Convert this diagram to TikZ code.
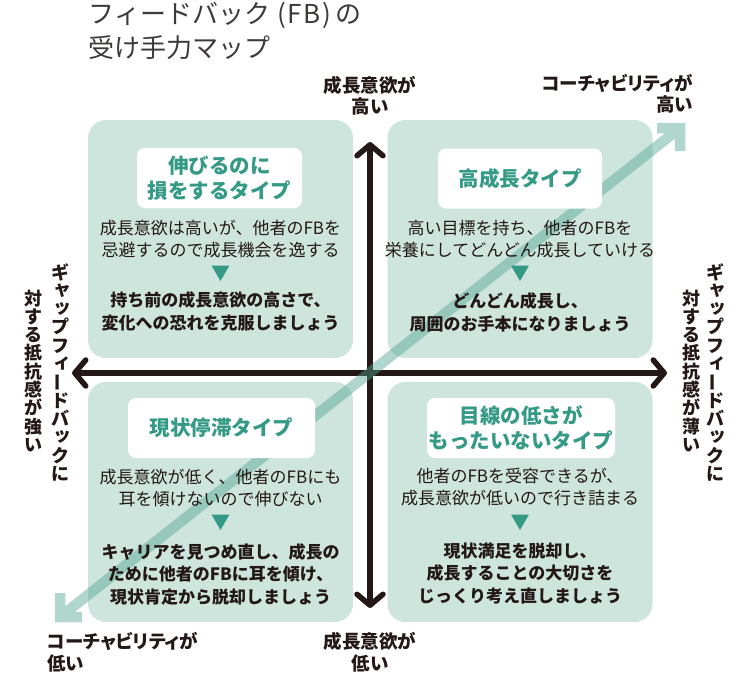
\documentclass[tikz,border=0pt]{standalone}
\usepackage{fontspec}
\newfontfamily\jp{Noto Sans CJK JP}
\newfontfamily\jpp{Noto Sans CJK JP}[RawFeature=+palt]
\usetikzlibrary{arrows.meta}
\definecolor{fbbox}{RGB}{206,229,222}
\definecolor{fbteal}{RGB}{52,154,133}
\definecolor{fbstripe}{RGB}{80,165,145}
\definecolor{fbdark}{RGB}{35,24,21}
\definecolor{fbgray}{RGB}{62,58,57}
\newcommand\emc[1]{\makebox[1em][c]{#1}}
\begin{document}
\begin{tikzpicture}[x=1pt,y=-1pt,
  qbox/.style={fill=fbbox, rounded corners=18pt, inner sep=0pt, minimum width=265pt, minimum height=238pt},
  tbox/.style={fill=white, rounded corners=8pt, inner sep=0pt, minimum height=60pt, align=center,
    text=fbteal, font=\jp\bfseries\fontsize{20.5}{25}\selectfont},
  bodytext/.style={inner sep=0pt, align=center, text=fbdark, font=\jp\fontsize{17}{22}\selectfont},
  advtext/.style={inner sep=0pt, align=center, text=fbdark, font=\jp\bfseries\fontsize{17}{22.5}\selectfont},
  axlab/.style={inner sep=0pt, text=fbdark, font=\jpp\bfseries\fontsize{18.5}{21.5}\selectfont},
  titletext/.style={inner sep=0pt, anchor=base west, text=fbgray, font=\jp\fontsize{26}{34}\selectfont},
  vch/.style={inner sep=0pt, text=fbdark, font=\jp\bfseries\fontsize{18}{18}\selectfont},
  axis/.style={line width=5.5pt, draw=fbdark,
    {Straight Barb[length=11pt,width=26pt,round]}-{Straight Barb[length=11pt,width=26pt,round]}},
  stripe/.style={line width=10.5pt, draw=fbstripe, draw opacity=0.45, line join=miter, line cap=butt},
  tri/.pic={\fill[fbteal] (-9,-7.5) -- (9,-7.5) -- (0,8) -- cycle;}
]
\useasboundingbox (0,0) rectangle (750,673);

% title
\node[titletext] (title1) at (88,23.5) {\emc{フ}\emc{ィ}\emc{ー}\emc{ド}\emc{バ}\emc{ッ}\emc{ク}\hspace{7pt}(\hspace{2pt}F\hspace{1pt}B\hspace{2pt})\hspace{4pt}\emc{の}};
\node[titletext] (title2) at (88,57.5) {\emc{受}\emc{け}\emc{手}\emc{力}\emc{マ}\emc{ッ}\emc{プ}};

% quadrant boxes
\node[qbox] (qtl) at (220.5,239) {};
\node[qbox] (qtr) at (520,239) {};
\node[qbox, minimum height=240pt] (qbl) at (220.5,502) {};
\node[qbox, minimum height=240pt] (qbr) at (520,502) {};

% axes
\coordinate (axL) at (72,373);
\coordinate (axR) at (667,373);
\coordinate (axT) at (370,142);
\coordinate (axB) at (370,608);
\draw[axis] (axL) -- (axR);
\draw[axis] (axB) -- (axT);

% diagonal coachability stripe
\coordinate (sBL) at (60,617);
\coordinate (sTR) at (680,128);
\coordinate (sBLa) at (82,617);
\coordinate (sBLb) at (60,593);
\coordinate (sTRa) at (657,128);
\coordinate (sTRb) at (680,151);
\draw[stripe] (sBLa) -- (sBL) -- (sBLb) (sBL) -- (sTR) (sTRa) -- (sTR) -- (sTRb);

% type boxes
\node[tbox, minimum width=165pt] (ttl) at (219.5,178) {伸びるのに\\損をするタイプ};
\node[tbox, minimum width=164pt] (ttr) at (520,178.5) {高成長タイプ};
\node[tbox, minimum width=187pt] (tbl) at (221.5,428) {現状停滞タイプ};
\node[tbox, minimum width=188pt] (tbr) at (521,428) {目線の低さが\\もったいないタイプ};

% descriptions
\node[bodytext] (btl) at (220.5,239) {成長意欲は高いが、他者のFBを\\忌避するので成長機会を逸する};
\node[bodytext] (btr) at (520,239) {高い目標を持ち、他者のFBを\\栄養にしてどんどん成長していける};
\node[bodytext] (bbl) at (220.5,488) {成長意欲が低く、他者のFBにも\\耳を傾けないので伸びない};
\node[bodytext] (bbr) at (520,487.5) {他者のFBを受容できるが、\\成長意欲が低いので行き詰まる};

% triangles
\pic at (220.5,273) {tri};
\pic at (520,273) {tri};
\pic at (220.5,522) {tri};
\pic at (520,522) {tri};

% advice
\node[advtext] (atl) at (220.5,311.5) {持ち前の成長意欲の高さで、\\変化への恐れを克服しましょう};
\node[advtext] (atr) at (520,312.5) {どんどん成長し、\\周囲のお手本になりましょう};
\node[advtext] (abl) at (220.5,574) {キャリアを見つめ直し、成長の\\ために他者のFBに耳を傾け、\\現状肯定から脱却しましょう};
\node[advtext] (abr) at (520,573.5) {現状満足を脱却し、\\成長することの大切さを\\じっくり考え直しましょう};

% axis labels
\node[axlab, align=center] (lt) at (370,96) {成長意欲が\\高い};
\node[axlab, align=right, anchor=east] (ltr) at (693,94) {コーチャビリティが\\高い};
\node[axlab, align=left, anchor=west] (lbl) at (47,652) {コーチャビリティが\\低い};
\node[axlab, align=center] (lb) at (370,652) {成長意欲が\\低い};

% vertical labels (set character by character)
\foreach \x/\s in {60/l,715/r}{
  \foreach \c/\i/\dx/\dy in {ギ/0/0/0,ャ/1/2/2,ッ/2/2/2,プ/3/0/0,フ/4/0/0,ィ/5/2/2,ド/7/0/0,バ/8/0/0,ッ/9/2/2,ク/10/0/0,に/11/0/0}
    \node[vch, anchor=base] (v\s a\i) at (\x+\dx, 279+18.3*\i-\dy) {\c};
  \node[vch, rotate=90] (v\s a6) at (\x, 382) {ー};
}
\foreach \x/\s/\w in {33/l/強,691/r/薄}{
  \foreach \c [count=\i from 0] in {対,す,る,抵,抗,感,が,\w,い}
    \node[vch, anchor=base] (v\s b\i) at (\x, 305+18.3*\i) {\c};
}
\end{tikzpicture}
\end{document}
